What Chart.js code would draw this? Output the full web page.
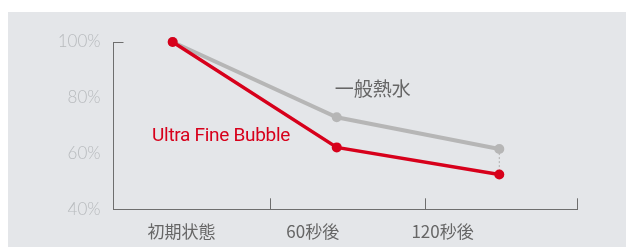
<!DOCTYPE html>
<html>
<head>
<meta charset="utf-8">
<script src="https://cdn.jsdelivr.net/npm/chart.js@4/dist/chart.umd.min.js"></script>
<style>
html,body{margin:0;padding:0;background:#fff;}
#bg{position:absolute;left:8px;top:12px;width:618px;height:235px;background:#e4e6e9;}
#wrap{position:absolute;left:0;top:0;width:626px;height:247px;}
</style>
</head>
<body>
<div id="bg"></div>
<div id="wrap"><canvas id="c" width="626" height="247"></canvas></div>
<script>
// ---- data ----
const categories = ['初期状態', '60秒後', '120秒後'];
const seriesNames = ['一般熱水', 'Ultra Fine Bubble'];
const pointX = [0.383, 1.445, 2.497];          // where each measurement sits on the time axis
const categoryLabelX = [0.44, 1.29, 2.13];      // where the category labels sit
const generalWater = [100, 73, 61.6];
const ultraFineBubble = [100, 62.2, 52.5];
const yTicks = [40, 60, 80, 100];
const xTickMarks = [1.013, 2.014, 3];

// ---- styles ----
const RED = '#d7001b';
const GRAY = '#b6b6b6';
const AXIS = '#6e6e6e';

const toPoints = (vals) => vals.map((v, i) => ({x: pointX[i], y: v}));
const last = pointX.length - 1;

const annotations = [
  {text: seriesNames[0], x: 1.678, y: 83.3, color: '#666666', font: '19px "Noto Sans CJK JP"'},
  {text: seriesNames[1], x: 0.696, y: 66.2, color: RED, font: '19px Roboto', spacing: '-0.3px'}
];

const decor = {
  id: 'decor',
  afterDraw(chart) {
    const {ctx, scales: {x, y}, chartArea} = chart;
    ctx.save();
    ctx.strokeStyle = AXIS;
    ctx.lineWidth = 1;
    xTickMarks.forEach(v => {
      const px = Math.round(x.getPixelForValue(v)) + 0.5;
      ctx.beginPath();
      ctx.moveTo(px, chartArea.bottom);
      ctx.lineTo(px, chartArea.bottom - 11);
      ctx.stroke();
    });
    const py = Math.round(y.getPixelForValue(100)) + 0.5;
    ctx.beginPath();
    ctx.moveTo(chartArea.left, py);
    ctx.lineTo(chartArea.left + 10, py);
    ctx.stroke();
    annotations.forEach(a => {
      ctx.font = a.font;
      ctx.letterSpacing = a.spacing || '0px';
      ctx.fillStyle = a.color;
      ctx.textAlign = 'center';
      ctx.textBaseline = 'middle';
      ctx.fillText(a.text, x.getPixelForValue(a.x), y.getPixelForValue(a.y));
    });
    ctx.restore();
  }
};

new Chart(document.getElementById('c'), {
  type: 'line',
  data: {
    datasets: [
      {
        label: 'connector',
        data: [{x: pointX[last], y: generalWater[last]}, {x: pointX[last], y: ultraFineBubble[last]}],
        borderColor: '#b0b0b0', borderWidth: 1, borderDash: [2, 2], pointRadius: 0, order: 3
      },
      {
        label: seriesNames[0], data: toPoints(generalWater),
        borderColor: GRAY, backgroundColor: GRAY, borderWidth: 4,
        pointRadius: 5, pointBorderWidth: 0, pointBackgroundColor: GRAY, order: 2, clip: false
      },
      {
        label: seriesNames[1], data: toPoints(ultraFineBubble),
        borderColor: RED, backgroundColor: RED, borderWidth: 3.5,
        pointRadius: 5, pointBorderWidth: 0, pointBackgroundColor: RED, order: 1, clip: false
      }
    ]
  },
  options: {
    responsive: false,
    animation: false,
    devicePixelRatio: 1,
    layout: {padding: {top: 42, right: 49, left: 0, bottom: 0}},
    plugins: {legend: {display: false}, tooltip: {enabled: false}},
    scales: {
      x: {
        type: 'linear', min: 0, max: 3,
        afterFit(s) { s.height = 37.7; },
        afterBuildTicks(s) { s.ticks = categoryLabelX.map(v => ({value: v})); },
        grid: {display: false, drawTicks: false},
        border: {display: true, color: AXIS, width: 1},
        ticks: {
          autoSkip: false, maxRotation: 0, padding: 12,
          color: '#666666',
          font: {family: '"Noto Sans CJK JP"', size: 17},
          callback: (v, i) => categories[i]
        }
      },
      y: {
        min: 40, max: 100,
        afterFit(s) { s.width = 113.5; },
        afterBuildTicks(s) { s.ticks = yTicks.map(v => ({value: v})); },
        grid: {display: false, drawTicks: false},
        border: {display: true, color: AXIS, width: 1},
        ticks: {
          padding: 13, color: '#b7babd',
          font: {family: 'Lato', size: 17, weight: 300},
          callback: v => v + '%'
        }
      }
    }
  },
  plugins: [decor]
});
</script>
</body>
</html>
